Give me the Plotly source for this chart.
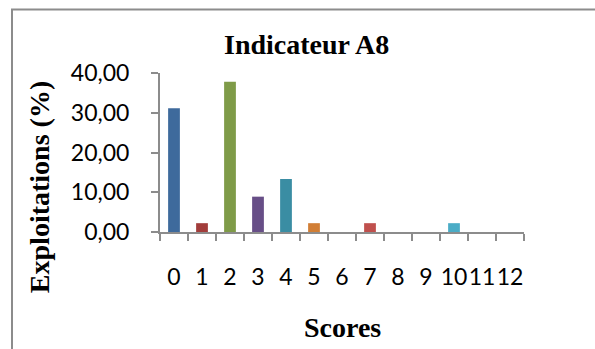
import plotly.graph_objects as go

# Score distribution for indicator A8
scores = ["0", "1", "2", "3", "4", "5", "6", "7", "8", "9", "10", "11", "12"]
exploitations_pct = [31.11, 2.22, 37.78, 8.89, 13.33, 2.22, 0.0, 2.22, 0.0, 0.0, 2.22, 0.0, 0.0]
bar_colors = ["#3E6A9C", "#A23D3B", "#7F9B48", "#674E87", "#3A8DA3", "#D17E35",
              "#4F81BD", "#C0504D", "#9BBB59", "#8064A2", "#4BACC6", "#F79646", "#2C4D75"]
y_ticks = [0, 10, 20, 30, 40]

W, H = 595, 349
L, R, T, B = 160, 71, 73.3, 117.3
pw, ph = W - L - R, H - T - B


def px(x):
    return (x - L) / pw


def py(y):
    return (H - B - y) / ph


axis_grey = "#8C8C8C"
tick_font = dict(family="Lato, Carlito, sans-serif", size=23, color="black")
title_font = dict(family="Liberation Serif, Times New Roman, serif", size=28, color="black")

fig = go.Figure(go.Bar(
    x=scores, y=exploitations_pct,
    marker=dict(color=bar_colors, line=dict(width=0)),
))

fig.update_layout(
    width=W, height=H,
    margin=dict(l=L, r=R, t=T, b=B, pad=0),
    paper_bgcolor="white", plot_bgcolor="white",
    separators=", ",
    bargap=0.58,
    showlegend=False,
    xaxis=dict(
        type="category", tickson="boundaries", tickmode="linear", dtick=1, tickangle=0,
        showline=True, linecolor=axis_grey, linewidth=2,
        ticks="outside", ticklen=7, tickwidth=2, tickcolor=axis_grey,
        tickfont=tick_font, ticklabelstandoff=23,
        showgrid=False, zeroline=False,
    ),
    yaxis=dict(
        range=[0, 40], tickvals=y_ticks, tickformat=".2f",
        showline=True, linecolor=axis_grey, linewidth=2,
        ticks="outside", ticklen=7, tickwidth=2, tickcolor=axis_grey,
        tickfont=tick_font, ticklabelstandoff=17,
        showgrid=False, zeroline=False,
    ),
    shapes=[dict(
        type="rect", xref="paper", yref="paper",
        x0=px(12), x1=px(620), y0=py(10), y1=py(380),
        line=dict(color="#8C8C8C", width=2), fillcolor="rgba(0,0,0,0)", layer="below",
    )],
    annotations=[
        dict(text="<b>Indicateur A8</b>", xref="paper", yref="paper",
             x=px(306), y=py(45), xanchor="center", yanchor="middle",
             showarrow=False, font=title_font),
        dict(text="<b>Exploitations (%)</b>", xref="paper", yref="paper",
             x=px(39), y=py(187), xanchor="center", yanchor="middle", textangle=-90,
             showarrow=False, font=title_font),
        dict(text="<b>Scores</b>", xref="paper", yref="paper",
             x=px(342), y=py(327), xanchor="center", yanchor="middle",
             showarrow=False, font=title_font),
    ],
)

fig.write_html("out.html")
